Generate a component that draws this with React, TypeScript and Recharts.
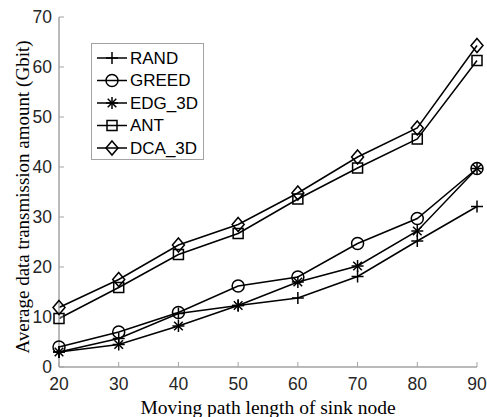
import React from "react"
import { LineChart, Line, XAxis, YAxis, Legend, Label } from "recharts"

const pathLength = [20, 30, 40, 50, 60, 70, 80, 90]
const rand = [3.0, 5.7, 10.7, 12.3, 13.8, 18.1, 25.2, 32.1]
const greed = [4.0, 7.0, 10.9, 16.2, 18.0, 24.7, 29.7, 39.7]
const edg3d = [3.0, 4.5, 8.2, 12.3, 17.0, 20.2, 27.2, 39.7]
const ant = [9.7, 15.9, 22.5, 26.7, 33.6, 39.8, 45.6, 61.3]
const dca3d = [11.9, 17.5, 24.4, 28.5, 34.8, 42.0, 47.8, 64.3]
const xTicks = [20, 30, 40, 50, 60, 70, 80, 90]
const yTicks = [0, 10, 20, 30, 40, 50, 60, 70]

type Shape = "plus" | "circle" | "star" | "square" | "diamond"

const series: { key: string; name: string; values: number[]; shape: Shape }[] = [
    { key: "rand", name: "RAND", values: rand, shape: "plus" },
    { key: "greed", name: "GREED", values: greed, shape: "circle" },
    { key: "edg", name: "EDG_3D", values: edg3d, shape: "star" },
    { key: "ant", name: "ANT", values: ant, shape: "square" },
    { key: "dca", name: "DCA_3D", values: dca3d, shape: "diamond" },
]

const data = pathLength.map((x, i) => {
    const row: Record<string, number> = { x }
    series.forEach((s) => (row[s.key] = s.values[i]))
    return row
})

const AXIS = "#a3a3a3"
const INK = "#000"
const sans = "'Liberation Sans', Arial, sans-serif"
const serif = "'Liberation Serif', 'Times New Roman', serif"

function Marker({ shape, cx, cy }: { shape: Shape; cx: number; cy: number }) {
    const p = { stroke: INK, strokeWidth: 1.5, fill: "none" }
    switch (shape) {
        case "plus":
            return (
                <g {...p}>
                    <line x1={cx - 6} y1={cy} x2={cx + 6} y2={cy} />
                    <line x1={cx} y1={cy - 6} x2={cx} y2={cy + 6} />
                </g>
            )
        case "circle":
            return <circle cx={cx} cy={cy} r={6} {...p} />
        case "star":
            return (
                <g {...p}>
                    <line x1={cx - 6} y1={cy} x2={cx + 6} y2={cy} />
                    <line x1={cx} y1={cy - 6} x2={cx} y2={cy + 6} />
                    <line x1={cx - 4.3} y1={cy - 4.3} x2={cx + 4.3} y2={cy + 4.3} />
                    <line x1={cx - 4.3} y1={cy + 4.3} x2={cx + 4.3} y2={cy - 4.3} />
                </g>
            )
        case "square":
            return <rect x={cx - 5} y={cy - 5} width={10} height={10} {...p} />
        case "diamond":
            return (
                <polygon
                    points={`${cx},${cy - 7} ${cx + 6},${cy} ${cx},${cy + 7} ${cx - 6},${cy}`}
                    {...p}
                />
            )
    }
}

function LegendBox() {
    return (
        <svg width={113} height={117} style={{ display: "block" }}>
            <rect x={0.5} y={0.5} width={112} height={116} fill="#fff" stroke={AXIS} strokeWidth={1} />
            {series.map((s, i) => {
                const cy = 15 + i * 22.5
                return (
                    <g key={s.key}>
                        <line x1={6} y1={cy} x2={36} y2={cy} stroke={INK} strokeWidth={1.5} />
                        <Marker shape={s.shape} cx={21} cy={cy} />
                        <text
                            x={39}
                            y={cy}
                            dominantBaseline="central"
                            fontSize={17}
                            fontFamily={sans}
                            fill={INK}
                        >
                            {s.name}
                        </text>
                    </g>
                )
            })}
        </svg>
    )
}

export default function App() {
    return (
        <div style={{ position: "absolute", left: 0, top: 0, background: "#fff" }}>
            <LineChart width={487} height={417} data={data} margin={{ top: 17, right: 10, left: 0, bottom: 0 }}>
                <XAxis
                    dataKey="x"
                    type="number"
                    domain={[20, 90]}
                    ticks={xTicks}
                    height={50}
                    tickSize={-5}
                    tickMargin={16}
                    axisLine={{ stroke: AXIS, strokeWidth: 1.5 }}
                    tickLine={{ stroke: AXIS }}
                    tick={{ fill: "#262626", fontSize: 17.5, fontFamily: sans }}
                >
                    <Label
                        content={(props: any) => {
                            const vb = props.viewBox
                            return (
                                <text
                                    x={vb.x + vb.width / 2}
                                    y={vb.y + 40}
                                    textAnchor="middle"
                                    dominantBaseline="central"
                                    fontSize={19.5}
                                    fontFamily={serif}
                                    fill={INK}
                                >
                                    Moving path length of sink node
                                </text>
                            )
                        }}
                    />
                </XAxis>
                <XAxis
                    xAxisId="top"
                    orientation="top"
                    type="number"
                    domain={[20, 90]}
                    ticks={xTicks}
                    height={0}
                    tick={false}
                    tickSize={-5}
                    axisLine={{ stroke: AXIS, strokeWidth: 1.5 }}
                    tickLine={{ stroke: AXIS }}
                />
                <YAxis
                    type="number"
                    domain={[0, 70]}
                    ticks={yTicks}
                    width={59}
                    tickSize={-5}
                    tickMargin={12}
                    axisLine={{ stroke: AXIS, strokeWidth: 1.5 }}
                    tickLine={{ stroke: AXIS }}
                    tick={{ fill: "#262626", fontSize: 17.5, fontFamily: sans }}
                >
                    <Label
                        content={(props: any) => {
                            const vb = props.viewBox
                            const cx = vb.x + 22
                            const cy = vb.y + vb.height / 2 + 5
                            return (
                                <text
                                    x={cx}
                                    y={cy}
                                    transform={`rotate(-90 ${cx} ${cy})`}
                                    textAnchor="middle"
                                    dominantBaseline="central"
                                    fontSize={19}
                                    fontFamily={serif}
                                    fill={INK}
                                >
                                    Average data transmission amount (Gbit)
                                </text>
                            )
                        }}
                    />
                </YAxis>
                <YAxis
                    yAxisId="right"
                    orientation="right"
                    type="number"
                    domain={[0, 70]}
                    ticks={yTicks}
                    width={0}
                    tick={false}
                    tickSize={-5}
                    axisLine={{ stroke: AXIS, strokeWidth: 1.5 }}
                    tickLine={{ stroke: AXIS }}
                />
                {series.map((s) => (
                    <Line
                        key={s.key}
                        dataKey={s.key}
                        name={s.name}
                        type="linear"
                        stroke={INK}
                        strokeWidth={1.5}
                        isAnimationActive={false}
                        dot={(props: any) => (
                            <Marker key={`${s.key}-${props.index}`} shape={s.shape} cx={props.cx} cy={props.cy} />
                        )}
                    />
                ))}
                <Legend
                    layout="vertical"
                    align="center"
                    verticalAlign="middle"
                    content={() => <LegendBox />}
                    wrapperStyle={{ left: 91, top: 43, width: 113, height: 117 }}
                />
            </LineChart>
        </div>
    )
}
